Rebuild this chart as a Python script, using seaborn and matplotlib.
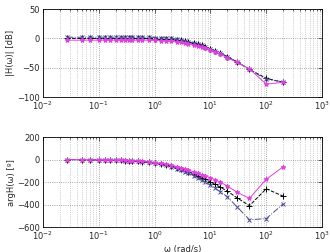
import numpy as np
import pandas as pd
import matplotlib
matplotlib.use("Agg")
import matplotlib.pyplot as plt
import seaborn as sns
from matplotlib.ticker import LogLocator, NullFormatter

sns.set_style("white")
plt.rcParams['font.family'] = ['DejaVu Sans']

freq = [0.027, 0.05, 0.07, 0.1, 0.13, 0.16, 0.2, 0.25, 0.3, 0.35, 0.4, 0.5, 0.6,
        0.8, 1.0, 1.3, 1.6, 2.0, 2.5, 3.0, 3.5, 4.0, 5.0, 6.0, 7.0, 8.0, 10.0,
        12.0, 15.0, 20.0, 30.0, 50.0, 100.0, 200.0]

mag_black = [0, 0, 0, 0, 0, 0, 0, 0, 0, 0, 0, 0, 0,
             0, -0.5, -0.5, -1, -1.5, -2.5, -3.5, -5, -6, -8, -10, -12, -14, -18,
             -21, -25, -31, -40, -53, -68, -75]
mag_blue = [2, 2, 2, 2, 2, 2, 2, 2, 2, 2, 2, 2, 2,
            2, 1.5, 1.5, 1, 0, -1, -2.5, -4, -5.5, -7.5, -9.5, -12, -14, -18,
            -21, -25, -31, -40, -53, -70, -74]
mag_mag = [-3, -3, -3, -3, -3, -3, -3, -3, -3, -3, -3, -3, -3,
           -3, -3.5, -4, -4.5, -5, -6, -7, -8, -9, -11, -13, -15, -17, -20,
           -23, -27, -33, -41, -52, -78, -75]

ph_black = [0, -1, -2, -3, -4, -5, -6, -8, -9, -10, -12, -15, -18,
            -23, -30, -38, -47, -58, -72, -85, -97, -108, -128, -146, -162, -176, -200,
            -220, -245, -280, -340, -410, -260, -325]
ph_blue = [0, -1, -2, -3, -4, -5, -6, -8, -9, -10, -12, -15, -19,
           -25, -33, -42, -52, -64, -80, -95, -108, -121, -143, -163, -181, -197, -228,
           -252, -285, -330, -420, -535, -525, -395]
ph_mag = [0, -1, -2, -3, -4, -5, -6, -7, -8, -9, -10, -13, -16,
          -20, -26, -33, -41, -50, -62, -73, -83, -92, -108, -122, -134, -145, -160,
          -178, -200, -235, -290, -345, -175, -65]

series = [
    ("black", mag_black, ph_black, "black", "--", "+", 4),
    ("blue", mag_blue, ph_blue, "#4a4a9a", "-.", "x", 3),
    ("magenta", mag_mag, ph_mag, "#e040e0", "-", "*", 3.5),
]

fig = plt.figure(figsize=(3.3, 2.52), dpi=100)
ax1 = fig.add_axes([0.13, 0.615, 0.846, 0.349])
ax2 = fig.add_axes([0.13, 0.099, 0.846, 0.357])

for name, m, p, c, ls, mk, ms in series:
    df = pd.DataFrame({"w": freq, "mag": m, "ph": p})
    sns.lineplot(data=df, x="w", y="mag", ax=ax1, color=c, linestyle=ls,
                 marker=mk, markersize=ms, linewidth=0.7, markeredgewidth=0.7,
                 markeredgecolor=c, sort=False)
    sns.lineplot(data=df, x="w", y="ph", ax=ax2, color=c, linestyle=ls,
                 marker=mk, markersize=ms, linewidth=0.7, markeredgewidth=0.7,
                 markeredgecolor=c, sort=False)

for ax in (ax1, ax2):
    ax.set_xscale("log")
    ax.set_xlim(1e-2, 1e3)
    ax.xaxis.set_major_locator(LogLocator(base=10, numticks=10))
    ax.xaxis.set_minor_locator(LogLocator(base=10, subs=np.arange(2, 10), numticks=100))
    ax.xaxis.set_minor_formatter(NullFormatter())
    ax.grid(True, which="major", linestyle=":", color="#888888", linewidth=0.6)
    ax.grid(True, which="minor", axis="x", linestyle=":", color="#aaaaaa", linewidth=0.5)
    ax.tick_params(which="both", direction="in", top=True, right=True,
                   labelsize=6, length=3, width=0.5, pad=2)
    ax.tick_params(which="minor", length=1.5)
    for s in ax.spines.values():
        s.set_linewidth(0.6)
        s.set_color("black")
    ax.set_xlabel("")

ax1.set_ylim(-100, 50)
ax1.set_yticks([-100, -50, 0, 50])
ax1.set_ylabel("|H(ω)| [dB]", fontsize=6, labelpad=2)
ax2.set_ylim(-600, 200)
ax2.set_yticks([-600, -400, -200, 0, 200])
ax2.set_ylabel("argH(ω) [º]", fontsize=6, labelpad=1)
ax2.set_xlabel("ω (rad/s)", fontsize=6, labelpad=2)

fig.savefig("out.png", dpi=100)
